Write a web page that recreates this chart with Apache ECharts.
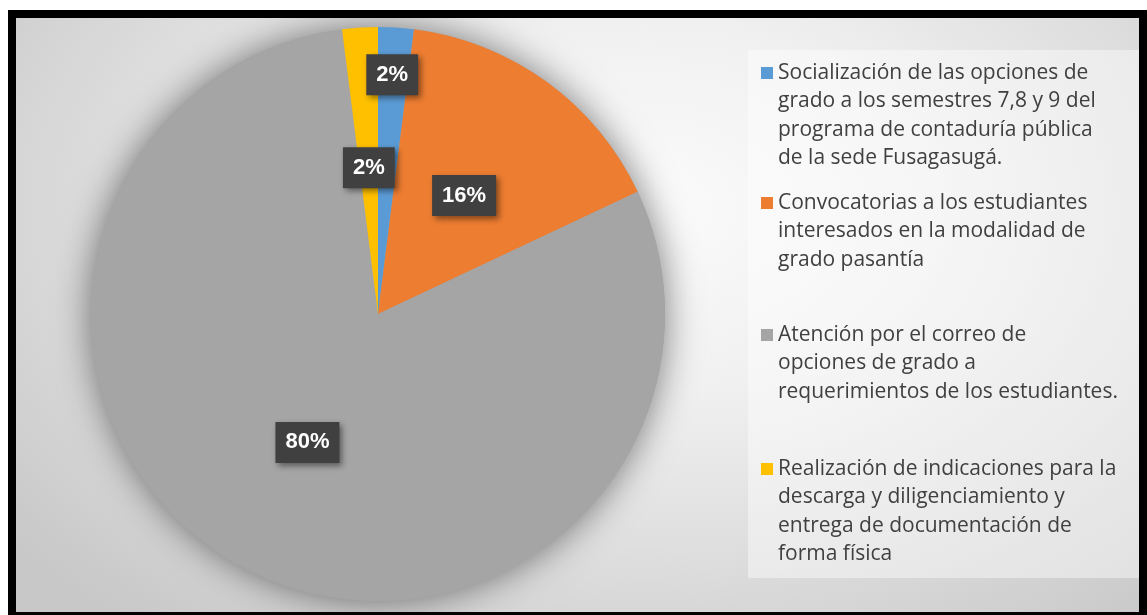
<!DOCTYPE html>
<html><head><meta charset="utf-8">
<script src="https://cdn.jsdelivr.net/npm/echarts@6/dist/echarts.min.js"></script>
<style>
html,body{margin:0;padding:0;background:#fff;width:1147px;height:615px;overflow:hidden;}
#frame{position:absolute;left:8px;top:10px;width:1139px;height:605px;background:#000;}
#chart{position:absolute;left:16px;top:18px;width:1123px;height:594px;
 background:radial-gradient(ellipse 72% 90% at 56% 32%, #fbfbfb 0%, #f0f0f0 35%, #dcdcdc 68%, #c8c8c8 100%);}
</style></head><body><div id="frame"></div><div id="chart"></div>
<script>
// ---- data ----
const categories = [
  'Socialización de las opciones de grado a los semestres 7,8 y 9 del programa de contaduría pública de la sede Fusagasugá.',
  'Convocatorias a los estudiantes interesados en la modalidad de grado pasantía',
  'Atención por el correo de opciones de grado a requerimientos de los estudiantes.',
  'Realización de indicaciones para la descarga y diligenciamiento y entrega de documentación de forma física'
];
const legendLines = [
  ['Socialización de las opciones de', 'grado a los semestres 7,8 y 9 del', 'programa de contaduría pública', 'de la sede Fusagasugá.'],
  ['Convocatorias a los estudiantes', 'interesados en la modalidad de', 'grado pasantía'],
  ['Atención por el correo de', 'opciones de grado a', 'requerimientos de los estudiantes.'],
  ['Realización de indicaciones para la', 'descarga y diligenciamiento y', 'entrega de documentación de', 'forma física']
];
const percentValues = [2, 16, 80, 2];
const sliceColors = ['#5b9bd5', '#ed7d31', '#a5a5a5', '#ffc000'];

// ---- layout/style ----
const L = 28.5;                       // legend line height
const firstLineY = [55, 185, 317, 451]; // chart coords of first legend line centre
const chart = echarts.init(document.getElementById('chart'), null, {renderer: 'canvas'});

const legends = categories.map((name, i) => {
  const n = legendLines[i].length;
  const h = n * L;
  const sq = (L - 12) / 2;
  return {
    orient: 'vertical', left: 745, top: firstLineY[i] - L / 2, padding: 0,
    itemWidth: 12, itemHeight: h, itemGap: 0,
    icon: 'path://M0,0 M0,' + sq + ' L12,' + sq + ' L12,' + (sq + 12) + ' L0,' + (sq + 12) + ' Z M12,' + h,
    selectedMode: false,
    data: [name],
    formatter: () => legendLines[i].join('\n'),
    textStyle: {fontFamily: 'Open Sans', fontSize: 21, color: '#404040', lineHeight: L}
  };
});

chart.setOption({
  animation: false,
  legend: legends,
  graphic: [{
    type: 'rect', z: -1, silent: true,
    shape: {x: 732, y: 32, width: 391, height: 528},
    style: {fill: 'rgba(255,255,255,0.42)'}
  }],
  series: [
    {
      type: 'pie', silent: true, center: [362, 296], radius: 287,
      label: {show: false}, labelLine: {show: false},
      data: [{value: 1, name: '__bg', itemStyle: {color: '#a5a5a5', shadowBlur: 36, shadowColor: 'rgba(0,0,0,0.5)'}}]
    },
    {
      type: 'pie', center: [362, 296], radius: 287, startAngle: 90, clockwise: true,
      avoidLabelOverlap: false,
      emphasis: {disabled: true},
      itemStyle: {borderWidth: 0},
      data: categories.map((c, i) => ({name: c, value: percentValues[i], itemStyle: {color: sliceColors[i]}})),
      labelLine: {show: false},
      label: {
        show: true, position: 'inside',
        formatter: p => p.value + '%',
        fontFamily: 'Liberation Sans', fontWeight: 'bold', fontSize: 22, color: '#ffffff',
        backgroundColor: '#404040', padding: [9, 10, 8, 10], lineHeight: 24,
        shadowColor: 'rgba(0,0,0,0.45)', shadowBlur: 6, shadowOffsetX: 3, shadowOffsetY: 3
      },
      labelLayout: p => p.dataIndex === 0 ? {dx: 5, dy: -93} : {}
    }
  ]
});
</script></body></html>
